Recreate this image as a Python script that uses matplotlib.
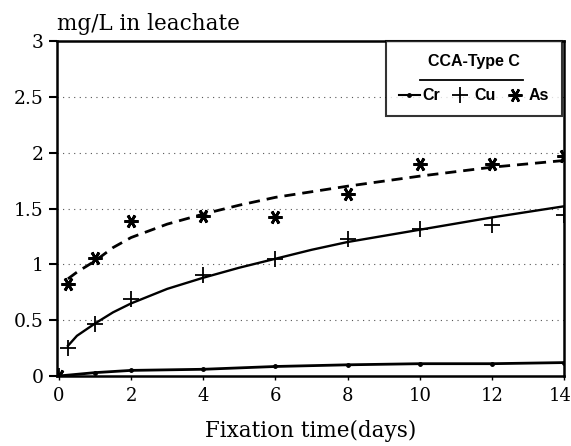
import matplotlib
matplotlib.use('Agg')
import matplotlib.pyplot as plt
import matplotlib.transforms as mtransforms
from matplotlib.lines import Line2D

# ── measured leachate concentrations (mg/L) ────────────────────────────────
days_cr = [0, 1, 2, 4, 6, 8, 10, 12, 14]
cr_vals = [0.0, 0.03, 0.05, 0.06, 0.085, 0.10, 0.11, 0.11, 0.12]

days_pts = [0, 0.25, 1, 2, 4, 6, 8, 10, 12, 14]
cu_vals = [0.0, 0.25, 0.47, 0.69, 0.90, 1.05, 1.23, 1.32, 1.35, 1.44]
as_vals = [0.0, 0.82, 1.06, 1.39, 1.43, 1.42, 1.63, 1.90, 1.90, 1.97]

# ── fitted curves ──────────────────────────────────────────────────────────
fit_days = [0.25, 0.5, 1, 1.5, 2, 3, 4, 5, 6, 7, 8, 10, 12, 14]
cu_fit = [0.27, 0.36, 0.47, 0.57, 0.65, 0.78, 0.88, 0.97, 1.05, 1.13, 1.20, 1.31, 1.42, 1.52]
as_fit = [0.87, 0.93, 1.03, 1.15, 1.24, 1.36, 1.45, 1.53, 1.60, 1.65, 1.70, 1.79, 1.87, 1.93]

x_ticks = [0, 2, 4, 6, 8, 10, 12, 14]
y_ticks = [0, 0.5, 1, 1.5, 2, 2.5, 3]
y_labels = ['0', '0.5', '1', '1.5', '2', '2.5', '3']
grid_levels = [0.5, 1, 1.5, 2, 2.5]

SERIF = 'DejaVu Serif'
AST = (6, 2, 90)   # six-armed asterisk with a horizontal bar

fig = plt.figure(figsize=(5.71, 4.46), dpi=100)
ax = fig.add_axes([0.100, 0.157, 0.888, 0.751])

for lvl in grid_levels:
    ax.axhline(lvl, color='#555555', lw=0.8, ls=(0, (1, 4)), zorder=0)

# Cr: points joined by a line
ax.plot(days_cr, cr_vals, '-', color='black', lw=2.0, marker='o', ms=2.5)
# Cu: fitted solid curve + plus markers
ax.plot(fit_days, cu_fit, '-', color='black', lw=1.7)
ax.plot(days_pts, cu_vals, ls='none', marker='+', ms=11, mew=1.3, color='black')
# As: fitted dashed curve + asterisk markers
ax.plot(fit_days, as_fit, color='black', lw=2.0, ls=(0, (4, 2.5)))
ax.plot(days_pts, as_vals, ls='none', marker=AST, ms=10, mew=2.0, color='black')

ax.set_xlim(-0.05, 14)
ax.set_ylim(0, 3)
ax.set_xticks(x_ticks)
ax.set_yticks(y_ticks)
ax.set_xticklabels([str(t) for t in x_ticks], fontfamily=SERIF, fontsize=13)
ax.set_yticklabels(y_labels, fontfamily=SERIF, fontsize=13.5)
ax.tick_params(axis='y', direction='out', length=6, width=1.5)
ax.tick_params(axis='x', direction='out', length=3, width=1.0, pad=5)
for s in ax.spines.values():
    s.set_linewidth(1.8)

# last x label sits right at the page edge; nudge it left a touch
last = ax.get_xticklabels()[-1]
last.set_transform(last.get_transform() +
                   mtransforms.ScaledTranslation(-4 / 100, 0, fig.dpi_scale_trans))

ax.set_xlabel('Fixation time(days)', fontfamily=SERIF, fontsize=15.5, labelpad=11)
ax.text(0.0, 1.018, 'mg/L in leachate', transform=ax.transAxes,
        fontfamily=SERIF, fontsize=15.5, ha='left', va='bottom')

# legend box
handles = [
    Line2D([], [], color='black', lw=1.5, marker='o', ms=2.5),
    Line2D([], [], color='black', ls='none', marker='+', ms=11, mew=1.3),
    Line2D([], [], color='black', ls='none', marker=AST, ms=10, mew=1.8),
]
leg = ax.legend(handles, ['Cr', 'Cu', 'As'], ncol=3, loc='upper right',
                bbox_to_anchor=(0.996, 1.0), borderaxespad=0,
                title='CCA-Type C', frameon=True, fancybox=False,
                edgecolor='black', handlelength=1.3, handletextpad=0.2,
                columnspacing=0.6, borderpad=0.8,
                prop={'family': 'Liberation Sans', 'weight': 'bold', 'size': 11.5})
leg.get_title().set_fontfamily('Liberation Sans')
leg.get_title().set_fontweight('bold')
leg.get_title().set_fontsize(11.5)
leg.get_frame().set_linewidth(1.5)
leg._legend_box.sep = 14

# underline under the legend title
ax.plot([0.716, 0.919], [0.884, 0.884], color='black', lw=1.3,
        transform=ax.transAxes, clip_on=False, zorder=10)

fig.savefig('out.png', dpi=100)
